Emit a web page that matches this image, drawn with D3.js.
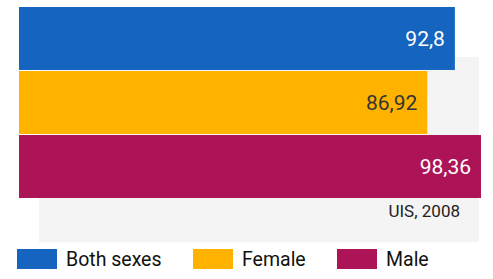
<!DOCTYPE html>
<html>
<head>
<meta charset="utf-8">
<script src="https://cdn.jsdelivr.net/npm/d3@7"></script>
<style>
  body { margin: 0; background: #fff; }
  text { font-family: Roboto, "Noto Sans", sans-serif; }
</style>
</head>
<body>
<svg id="chart" width="493" height="279"></svg>
<script>
// data
var categories = ["Both sexes", "Female", "Male"];
var values = [92.8, 86.92, 98.36];
var valueLabels = ["92,8", "86,92", "98,36"];
var colors = ["#1565c0", "#ffb300", "#ad1457"];
var labelColors = ["#ffffff", "#333333", "#ffffff"];
var source = "UIS, 2008";

var svg = d3.select("#chart");

var x = d3.scaleLinear()
  .domain([0, d3.max(values)])
  .range([19, 481]);

var y = d3.scaleBand()
  .domain(categories)
  .range([7, 198])
  .paddingInner(0.016);

// grey panel behind the bars
svg.append("rect")
  .attr("x", 39)
  .attr("y", 57)
  .attr("width", 440)
  .attr("height", 185)
  .style("fill", "#f4f4f4");

var bars = svg.append("g");

bars.selectAll("rect")
  .data(values)
  .enter()
  .append("rect")
  .attr("x", x(0))
  .attr("y", function (d, i) { return y(categories[i]); })
  .attr("width", function (d) { return x(d) - x(0); })
  .attr("height", y.bandwidth())
  .style("fill", function (d, i) { return colors[i]; });

bars.selectAll("text")
  .data(values)
  .enter()
  .append("text")
  .attr("x", function (d) { return x(d) - 10; })
  .attr("y", function (d, i) { return y(categories[i]) + y.bandwidth() / 2; })
  .attr("dy", "0.36em")
  .attr("text-anchor", "end")
  .style("font-size", "21px")
  .style("fill", function (d, i) { return labelColors[i]; })
  .text(function (d, i) { return valueLabels[i]; });

svg.append("text")
  .attr("x", 460)
  .attr("y", 217)
  .attr("text-anchor", "end")
  .style("font-size", "17px")
  .style("fill", "#222")
  .text(source);

// legend
var legendX = [17, 193, 337];
var legend = svg.append("g");

legend.selectAll("rect")
  .data(categories)
  .enter()
  .append("rect")
  .attr("x", function (d, i) { return legendX[i]; })
  .attr("y", 249)
  .attr("width", 40)
  .attr("height", 20)
  .style("fill", function (d, i) { return colors[i]; });

legend.selectAll("text")
  .data(categories)
  .enter()
  .append("text")
  .attr("x", function (d, i) { return legendX[i] + 49; })
  .attr("y", 266)
  .style("font-size", "19.5px")
  .style("fill", "#111")
  .text(function (d) { return d; });
</script>
</body>
</html>
